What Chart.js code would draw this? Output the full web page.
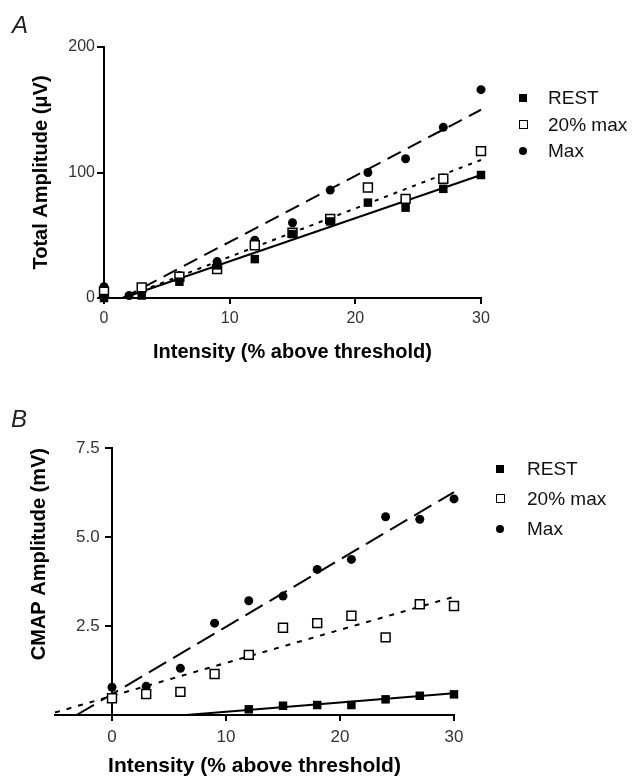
<!DOCTYPE html>
<html>
<head>
<meta charset="utf-8">
<script src="https://cdn.jsdelivr.net/npm/chart.js@4.4.1/dist/chart.umd.min.js"></script>
<style>
  body { margin: 0; background: #fff; }
  #page { position: relative; width: 638px; height: 781px; overflow: hidden; font-family: "Liberation Sans", Arial, sans-serif; color: #111; }
  canvas { position: absolute; left: 0; }
  #chartA { top: 0; }
  #chartB { top: 380px; }
  .panel { position: absolute; font-size: 24px; line-height: 24px; font-style: italic; color: #222; }
  .legend { position: absolute; font-size: 19px; line-height: 19px; }
  .legend .row { position: absolute; left: 0; white-space: nowrap; }
  .mk { position: absolute; box-sizing: border-box; }
  .mk.rest { width: 8px; height: 8px; background: #000; }
  .mk.mid { width: 9px; height: 9px; border: 1.5px solid #000; background: #fff; }
  .mk.max { width: 8px; height: 8px; border-radius: 50%; background: #000; }
</style>
</head>
<body>
<div id="page">
  <canvas id="chartA" width="638" height="380"></canvas>
  <canvas id="chartB" width="638" height="401"></canvas>
  <div class="panel" style="left:12px; top:13px;">A</div>
  <div class="panel" style="left:11px; top:407px;">B</div>
  <div class="legend" id="legendA" style="left:523px; top:88px;"></div>
  <div class="legend" id="legendB" style="left:500px; top:459px;"></div>
</div>
<script>
// series names
var seriesNames = ['REST', '20% max', 'Max'];

// panel A: total amplitude (uV)
var intensityA = [0, 3, 6, 9, 12, 15, 18, 21, 24, 27, 30];
var restA = [0, 2, 13, 26, 31, 51, 61, 76, 72, 87, 98];
var midA = [5, 8.5, 17, 23, 42, 52, 63, 88, 79, 95, 117];
var maxIntensityA = [0, 2, 3, 6, 9, 12, 15, 18, 21, 24, 27, 30];
var maxA = [9, 2, 8, 18, 29, 46, 60, 86, 100, 111, 136, 166];
// regression lines A
var fitXA = [1.5, 30];
var restFitA = [0, 98];
var midFitA = [0, 110];
var maxFitA = [0, 150];

// panel B: CMAP amplitude (mV)
var intensityB = [0, 3, 6, 9, 12, 15, 18, 21, 24, 27, 30];
var restIntensityB = [12, 15, 18, 21, 24, 27, 30];
var restB = [0.16, 0.26, 0.28, 0.28, 0.44, 0.54, 0.58];
var midB = [0.47, 0.59, 0.65, 1.15, 1.69, 2.45, 2.58, 2.79, 2.18, 3.11, 3.06];
var maxB = [0.78, 0.81, 1.31, 2.58, 3.21, 3.34, 4.09, 4.37, 5.57, 5.5, 6.07];
// regression lines B
var restFitXB = [6.5, 30];
var restFitB = [0, 0.61];
var midFitXB = [-5, 30];
var midFitB = [0.07, 3.32];
var maxFitXB = [-3.1, 30];
var maxFitB = [0, 6.26];

// tick labels
var xTicks = [0, 10, 20, 30];
var yTicksA = [0, 100, 200];
var yTicksB = [2.5, 5.0, 7.5];

var FONT = "'Liberation Sans', Arial, sans-serif";

function pts(xs, ys) {
    return xs.map(function (x, i) { return { x: x, y: ys[i] }; });
}

function pointSets(restX, restY, midX, midY, maxX, maxY) {
    return [
        { label: seriesNames[0], data: pts(restX, restY), pointStyle: 'rect', pointRadius: 6, backgroundColor: '#000', borderColor: '#000', borderWidth: 0, showLine: false, clip: false, xAxisID: 'x', yAxisID: 'y' },
        { label: seriesNames[1], data: pts(midX, midY), pointStyle: 'rect', pointRadius: 6.3, backgroundColor: '#fff', borderColor: '#000', borderWidth: 1.5, showLine: false, clip: false, xAxisID: 'x', yAxisID: 'y' },
        { label: seriesNames[2], data: pts(maxX, maxY), pointStyle: 'circle', pointRadius: 4.5, backgroundColor: '#000', borderColor: '#000', borderWidth: 0, showLine: false, clip: false, xAxisID: 'x', yAxisID: 'y' }
    ];
}

function fitLine(xs, ys, dash) {
    return { data: pts(xs, ys), showLine: true, pointRadius: 0, borderColor: '#000', borderWidth: 2, borderDash: dash, fill: false, clip: false, xAxisID: 'x', yAxisID: 'y' };
}

function keepTicks(list) {
    return function (scale) {
        scale.ticks = scale.ticks.filter(function (t) { return list.indexOf(t.value) >= 0; });
    };
}

var axisLine = { color: '#000', width: 2 };

// 創建 A 圖
var chartA = new Chart(document.getElementById('chartA').getContext('2d'), {
    type: 'scatter',
    data: {
        datasets: pointSets(intensityA, restA, intensityA, midA, maxIntensityA, maxA).concat([
            fitLine(fitXA, restFitA, []),
            fitLine(fitXA, midFitA, [4, 6]),
            fitLine(fitXA, maxFitA, [15, 8])
        ])
    },
    options: {
        responsive: false,
        animation: false,
        layout: { padding: { left: 0, top: 47, right: 157, bottom: 0 } },
        plugins: { legend: { display: false }, tooltip: { enabled: false } },
        scales: {
            x: {
                type: 'linear', min: 0, max: 30,
                afterBuildTicks: keepTicks(xTicks),
                ticks: { stepSize: 10, color: '#333', font: { family: FONT, size: 16 }, padding: 5 },
                grid: { drawOnChartArea: false, tickLength: 6, color: '#000', lineWidth: 2 },
                border: axisLine,
                title: { display: true, text: 'Intensity (% above threshold)', color: '#000', font: { family: FONT, size: 20, weight: 'bold' }, padding: { top: 0, bottom: 16 } },
                afterFit: function (s) { s.height = 82; }
            },
            y: {
                type: 'linear', min: 0, max: 200,
                afterBuildTicks: keepTicks(yTicksA),
                ticks: { stepSize: 100, color: '#333', font: { family: FONT, size: 16 }, padding: 2 },
                grid: { drawOnChartArea: false, tickLength: 7, color: '#000', lineWidth: 2 },
                border: axisLine,
                title: { display: true, text: 'Total Amplitude (μV)', color: '#000', font: { family: FONT, size: 20, weight: 'bold' }, padding: { top: 29, bottom: 0 } },
                afterFit: function (s) { s.width = 104; }
            }
        }
    }
});

// 創建 B 圖
var chartB = new Chart(document.getElementById('chartB').getContext('2d'), {
    type: 'scatter',
    data: {
        datasets: pointSets(restIntensityB, restB, intensityB, midB, intensityB, maxB).concat([
            fitLine(restFitXB, restFitB, []),
            fitLine(midFitXB, midFitB, [5, 7]),
            fitLine(maxFitXB, maxFitB, [20, 8])
        ])
    },
    options: {
        responsive: false,
        animation: false,
        layout: { padding: { left: 0, top: 68, right: 184, bottom: 0 } },
        plugins: { legend: { display: false }, tooltip: { enabled: false } },
        scales: {
            x: {
                type: 'linear', min: -5, max: 30,
                afterBuildTicks: keepTicks(xTicks),
                ticks: { stepSize: 10, color: '#333', font: { family: FONT, size: 17 }, padding: 6 },
                grid: { drawOnChartArea: false, tickLength: 6, color: '#000', lineWidth: 2 },
                border: axisLine,
                title: { display: true, text: 'Intensity (% above threshold)', color: '#000', font: { family: FONT, size: 21, weight: 'bold' }, padding: { top: 0, bottom: 2 } },
                afterFit: function (s) { s.height = 66; }
            },
            // axis line drawn at x = 0
            y: {
                type: 'linear', min: 0, max: 7.5,
                position: { x: 0 },
                ticks: { stepSize: 2.5, display: false },
                grid: { drawOnChartArea: false, tickLength: 6, color: '#000', lineWidth: 2 },
                border: axisLine,
                afterFit: function (s) { s.width = 0; }
            },
            // title and tick labels for the y axis
            yt: {
                type: 'linear', min: 0, max: 7.5,
                position: 'left',
                afterBuildTicks: keepTicks(yTicksB),
                ticks: { stepSize: 2.5, color: '#333', font: { family: FONT, size: 17 }, mirror: true, crossAlign: 'near', padding: 21, callback: function (v) { return v.toFixed(1); } },
                grid: { display: false },
                border: { display: false },
                title: { display: true, align: 'end', text: 'CMAP Amplitude (mV)', color: '#000', font: { family: FONT, size: 20, weight: 'bold' }, padding: { top: 27, bottom: 0 } },
                afterFit: function (s) { s.width = 55; }
            }
        }
    }
});

// legends
function buildLegend(id, rowGap, textGap) {
    var box = document.getElementById(id);
    var kinds = ['rest', 'mid', 'max'];
    seriesNames.forEach(function (name, i) {
        var row = document.createElement('div');
        row.className = 'row';
        row.style.top = (i * rowGap) + 'px';
        var mk = document.createElement('span');
        mk.className = 'mk ' + kinds[i];
        var size = kinds[i] === 'mid' ? 9 : 8;
        mk.style.left = (-size / 2) + 'px';
        mk.style.top = (9.5 - size / 2) + 'px';
        var txt = document.createElement('span');
        txt.textContent = name;
        txt.style.position = 'absolute';
        txt.style.left = textGap + 'px';
        txt.style.top = '0px';
        row.appendChild(mk);
        row.appendChild(txt);
        box.appendChild(row);
    });
}
buildLegend('legendA', 26.5, 25);
buildLegend('legendB', 30, 27);
</script>
</body>
</html>
